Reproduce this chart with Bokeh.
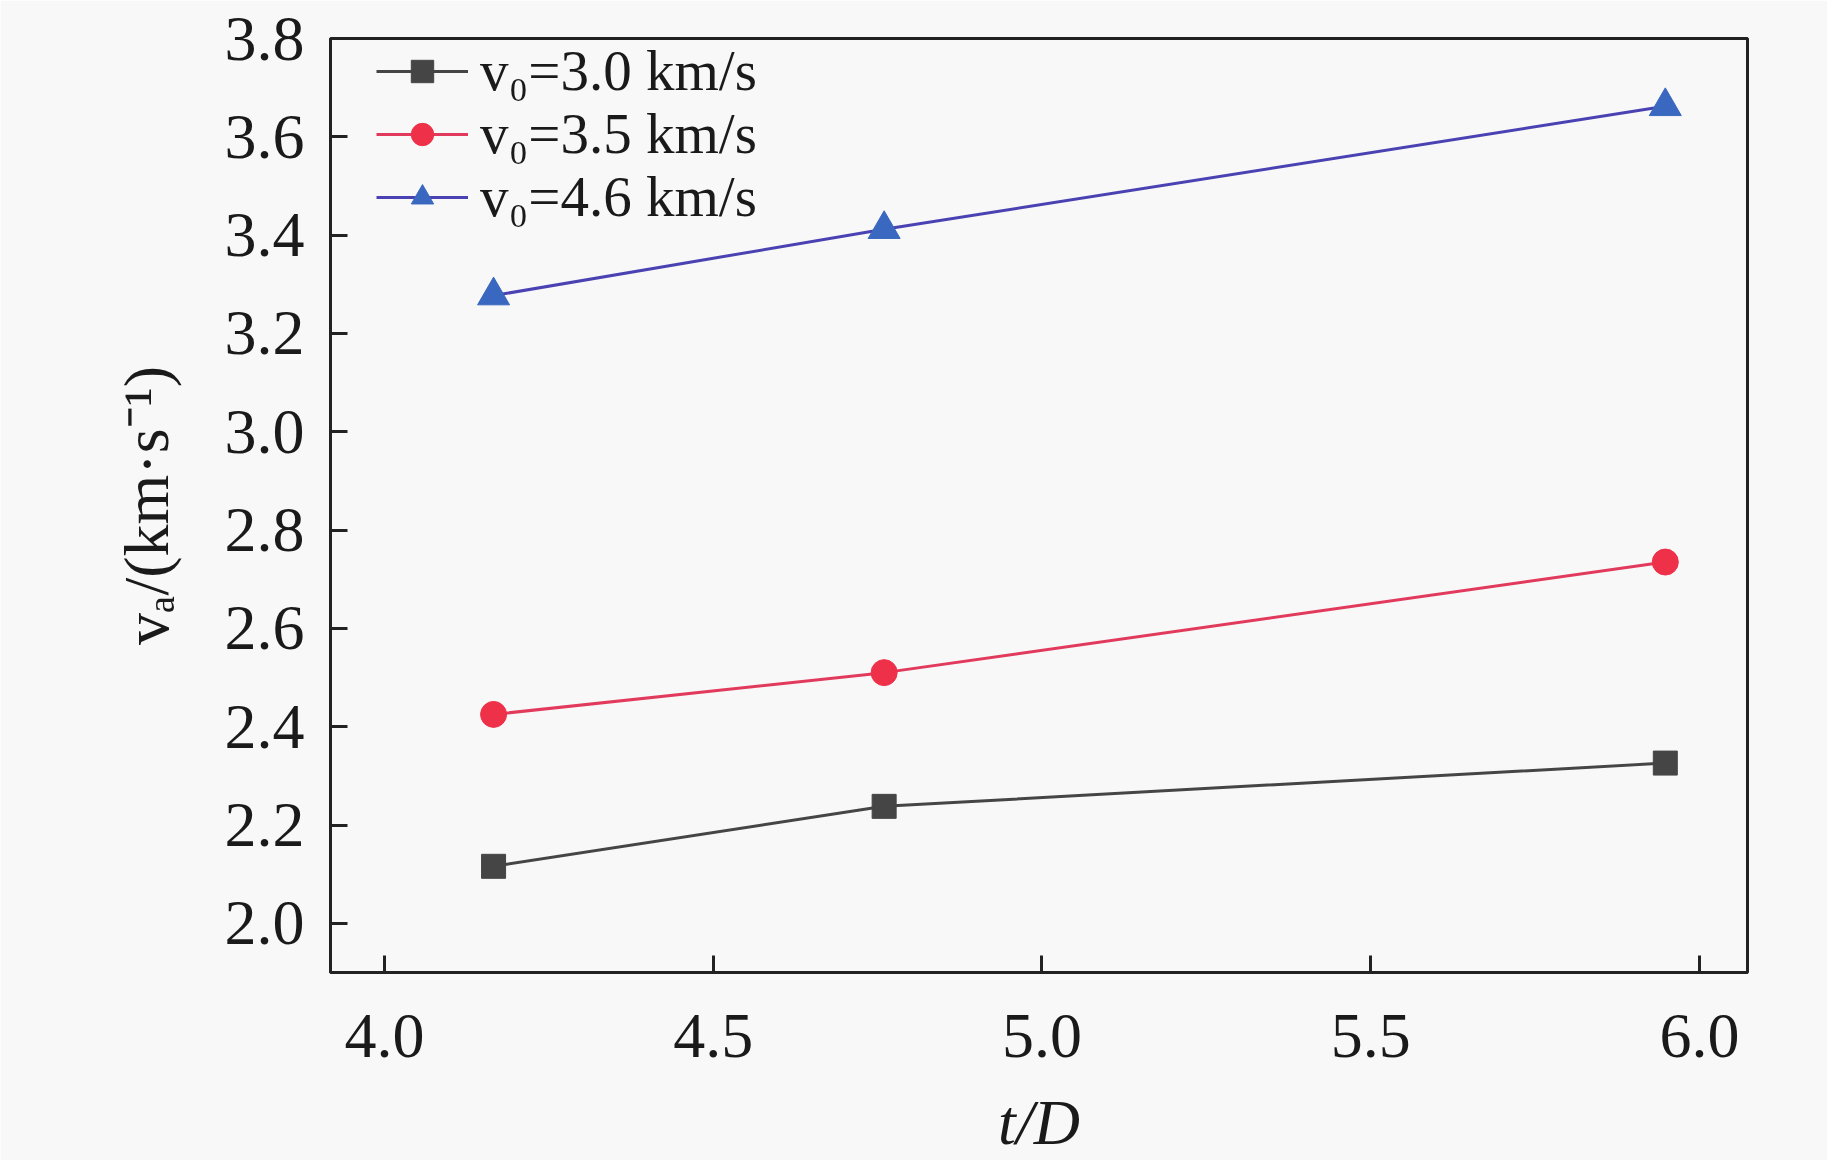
from bokeh.plotting import figure
from bokeh.models import (Range1d, FixedTicker, PrintfTickFormatter, Legend, LegendItem)
from bokeh.embed import file_html
from bokeh.resources import INLINE

# ---- data ----
t_over_D = [4.166, 4.76, 5.948]
va_30 = [2.116, 2.238, 2.326]
va_35 = [2.425, 2.510, 2.735]
va_46 = [3.277, 3.412, 3.662]
series_labels = ["v\u2080=3.0 km/s", "v\u2080=3.5 km/s", "v\u2080=4.6 km/s"]
x_ticks = [4.0, 4.5, 5.0, 5.5, 6.0]
y_ticks = [2.0, 2.2, 2.4, 2.6, 2.8, 3.0, 3.2, 3.4, 3.6, 3.8]

FONT = "Liberation Serif"
BG = "#f8f8f8"

p = figure(width=1827, height=1160, output_backend="svg", toolbar_location=None,
           x_range=Range1d(3.918, 6.073), y_range=Range1d(1.90, 3.80),
           min_border_left=330, min_border_right=80, min_border_top=38,
           min_border_bottom=182)
p.background_fill_color = BG
p.border_fill_color = BG
p.grid.visible = False
p.outline_line_color = "#222222"
p.outline_line_width = 3

for ax in (p.xaxis[0], p.yaxis[0]):
    ax.axis_line_width = 3
    ax.axis_line_color = "#222222"
    ax.major_tick_in = 17
    ax.major_tick_out = 0
    ax.major_tick_line_width = 3
    ax.major_tick_line_color = "#222222"
    ax.minor_tick_line_color = None
    ax.major_label_text_font = FONT
    ax.major_label_text_font_size = "64px"
    ax.major_label_text_color = "#1a1a1a"
    ax.axis_label_text_font = FONT
    ax.axis_label_text_font_size = "64px"
    ax.axis_label_text_color = "#1a1a1a"
    ax.formatter = PrintfTickFormatter(format="%.1f")

p.xaxis.ticker = FixedTicker(ticks=x_ticks)
p.yaxis.ticker = FixedTicker(ticks=y_ticks)
p.xaxis.major_label_standoff = 42
p.yaxis.major_label_standoff = 26
p.xaxis.axis_label = "t/D"
p.xaxis.axis_label_text_font_style = "italic"
p.xaxis.axis_label_standoff = 27
p.yaxis.axis_label = "v\u2090/(km\u00b7s\u207b\u00b9)"
p.yaxis.axis_label_text_font_style = "normal"
p.yaxis.axis_label_standoff = 40

styles = [
    (va_30, "#454545", "#454545", "square", 24),
    (va_35, "#e23a5c", "#ef3049", "circle", 26),
    (va_46, "#4a42b2", "#3a68c0", "triangle", 32),
]
legend_rows_vy = [869, 806, 743]
for (vals, lc, mc, mk, sz), lab, vy in zip(styles, series_labels, legend_rows_vy):
    r1 = p.line(t_over_D, vals, line_color=lc, line_width=3)
    r2 = p.scatter(t_over_D, vals, marker=mk, size=sz, fill_color=mc, line_color=mc)
    leg = Legend(items=[LegendItem(label=lab, renderers=[r1, r2])],
                 location=(46, vy), padding=0, margin=0,
                 border_line_alpha=0, background_fill_alpha=0,
                 glyph_width=92, glyph_height=56, spacing=0, label_standoff=12,
                 label_text_font=FONT, label_text_font_size="57px",
                 label_text_color="#1a1a1a")
    p.add_layout(leg, "center")

open("out.html", "w").write(file_html(p, INLINE))
